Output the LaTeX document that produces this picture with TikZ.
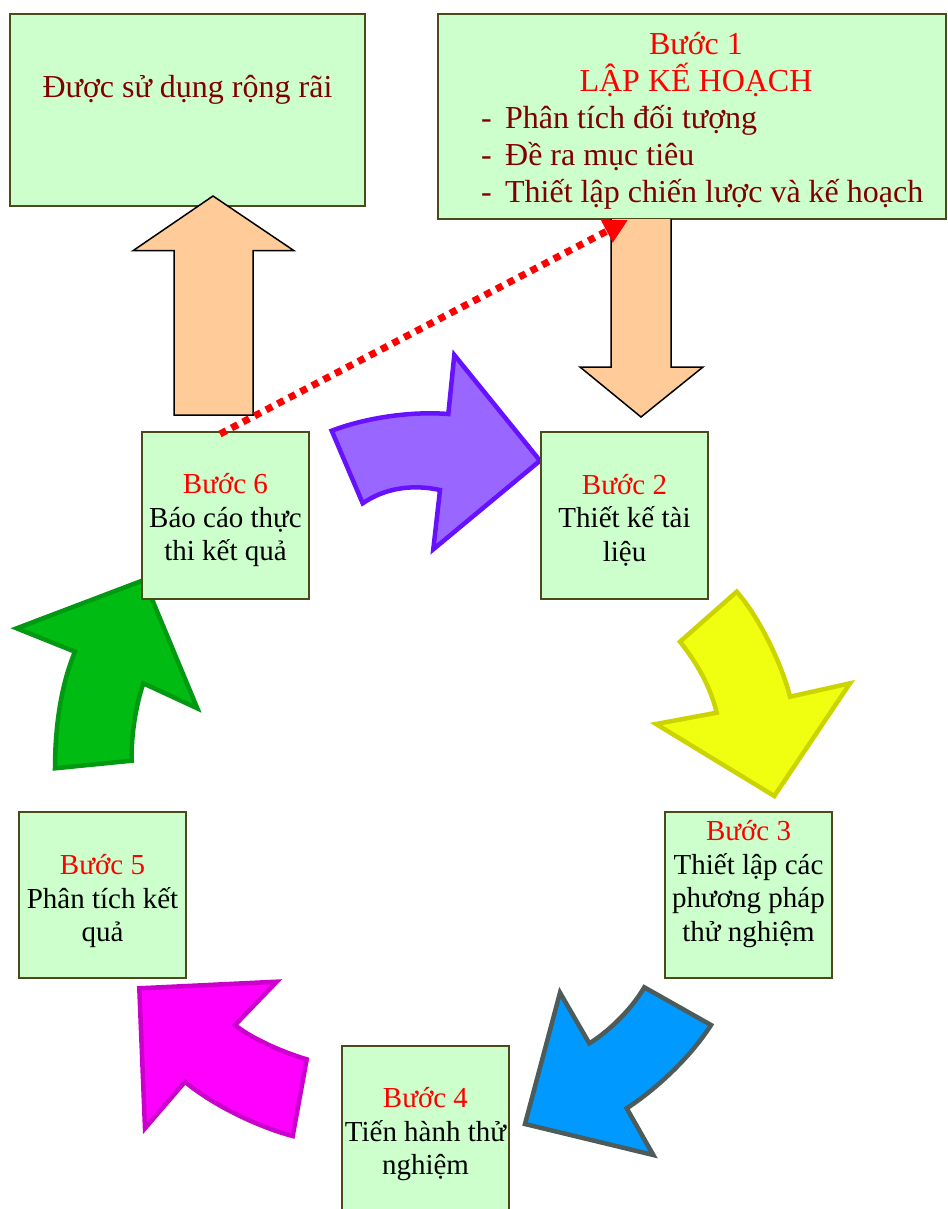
\documentclass[tikz,border=0pt]{standalone}
\usepackage{fontspec}
\setmainfont{Liberation Serif}
\usetikzlibrary{arrows.meta}
\definecolor{boxfill}{HTML}{CCFFCC}
\definecolor{boxline}{HTML}{4A4A1A}
\definecolor{darkred}{HTML}{800000}
\definecolor{peach}{HTML}{FFCC99}
\definecolor{purplefill}{HTML}{9966FF}
\definecolor{purpleline}{HTML}{6611FF}
\definecolor{yellowfill}{HTML}{F0FF0F}
\definecolor{yellowline}{HTML}{CCD400}
\definecolor{bluefill}{HTML}{0099FF}
\definecolor{blueline}{HTML}{4D5B5B}
\definecolor{magfill}{HTML}{FF00FF}
\definecolor{magline}{HTML}{CC00CC}
\definecolor{greenfill}{HTML}{00BB11}
\definecolor{greenline}{HTML}{009911}
\tikzset{
  stepbox/.style={draw=boxline, fill=boxfill, line width=2pt, inner sep=0pt},
  steptext/.style={align=center, inner sep=0pt, font=\fontsize{29}{33.5}\selectfont},
  bigtext/.style={inner sep=0pt, font=\fontsize{32}{37}\selectfont},
  curvearrow/.style={line width=4.5pt, line join=miter, miter limit=10},
  blockarrow/.style={draw=black, fill=peach, line width=1.5pt, line join=miter},
  reddots/.style={draw=red, line width=7pt, dash pattern=on 7pt off 6pt, -{Triangle[length=24pt,width=24pt]}}
}
\begin{document}
\begin{tikzpicture}[x=1pt,y=-1pt]
\useasboundingbox (0,0) rectangle (947,1209);

% curved arrows
\draw[curvearrow, draw=purpleline, fill=purplefill]
  (331.7,430.7) .. controls (365,418) and (410,411) .. (448.3,414)
  -- (454.3,355) -- (540,460.7) -- (433.3,549.3) -- (440,490)
  .. controls (412,484) and (385,488) .. (362.7,503.3) -- cycle;
\draw[curvearrow, draw=yellowline, fill=yellowfill]
  (736.7,591.7) -- (680,641.7)
  .. controls (696,662) and (710,685) .. (716.7,712.7)
  -- (656,724) -- (774.3,796) -- (850,683.3) -- (790,696.7)
  .. controls (782,665) and (760,618) .. cycle;
\draw[curvearrow, draw=blueline, fill=bluefill]
  (644.3,987.3) -- (711,1025)
  .. controls (690,1058) and (655,1090) .. (626.7,1108.3)
  -- (653.3,1155) -- (525,1124) -- (560,992.7) -- (589.3,1043.3)
  .. controls (605,1034) and (630,1012) .. cycle;
\draw[curvearrow, draw=magline, fill=magfill]
  (139.3,988.3) -- (276.7,981.7) -- (235,1025)
  .. controls (252,1039) and (285,1053) .. (306.7,1059.3)
  -- (292.7,1136)
  .. controls (255,1126) and (210,1103) .. (185,1081.7)
  -- (145,1128.3) -- cycle;
\draw[curvearrow, draw=greenline, fill=greenfill]
  (144,580) -- (16.7,628.3) -- (75,651.7)
  .. controls (63,680) and (55,720) .. (55,768.3)
  -- (131.7,760.7)
  .. controls (131,735) and (136,705) .. (143.3,683.3)
  -- (197.3,708.3) -- cycle;

% boxes
\node[stepbox, minimum width=355pt, minimum height=192pt] (b0) at (187.5,110) {};
\node[bigtext, text=darkred] (t0) at (187.5,90) {Được sử dụng rộng rãi};

\node[stepbox, minimum width=508pt, minimum height=205pt] (b1) at (691.5,116.5) {};
\node[bigtext, text=red, align=center] (t1) at (696,65) {Bước 1\\LẬP KẾ HOẠCH};
\node[bigtext, text=darkred, align=left, anchor=west] (t1b) at (481,157)
  {\makebox[24pt][l]{-}Phân tích đối tượng\\\makebox[24pt][l]{-}Đề ra mục tiêu\\\makebox[24pt][l]{-}Thiết lập chiến lược và kế hoạch};

\node[stepbox, minimum width=167pt, minimum height=167pt] (b6) at (225.5,515.5) {};
\node[steptext] (t6) at (225.5,520) {\textcolor{red}{Bước 6}\\Báo cáo thực\\thi kết quả};

\node[stepbox, minimum width=167pt, minimum height=167pt] (b2) at (624.5,515.5) {};
\node[steptext] (t2) at (624.5,520) {\textcolor{red}{Bước 2}\\Thiết kế tài\\liệu};

\node[stepbox, minimum width=167pt, minimum height=166pt] (b3) at (748.5,895) {};
\node[steptext] (t3) at (748.5,884) {\textcolor{red}{Bước 3}\\Thiết lập các\\phương pháp\\thử nghiệm};

\node[stepbox, minimum width=167pt, minimum height=166pt] (b5) at (102.5,895) {};
\node[steptext] (t5) at (102.5,901) {\textcolor{red}{Bước 5}\\Phân tích kết\\quả};

\node[stepbox, minimum width=167pt, minimum height=167pt] (b4) at (425.5,1129.5) {};
\node[steptext] (t4) at (425.5,1134.5) {\textcolor{red}{Bước 4}\\Tiến hành thử\\nghiệm};

% straight block arrows
\draw[blockarrow] (174,415) -- (174,250.7) -- (133,250.7) -- (213,196) -- (294,250.7) -- (253,250.7) -- (253,415) -- cycle;
\draw[blockarrow] (611,219) -- (611,367) -- (580,367) -- (641,417) -- (703,367) -- (671,367) -- (671,219);

% red dotted arrow
\coordinate (rs) at (220,434);
\coordinate (re) at (628,220);
\draw[reddots] (rs) -- (re);
\end{tikzpicture}
\end{document}
